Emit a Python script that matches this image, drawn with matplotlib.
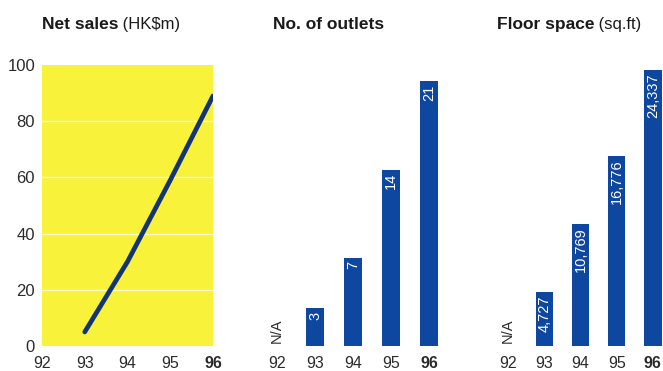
import matplotlib.pyplot as plt

plt.rcParams['font.family'] = ['Liberation Sans', 'DejaVu Sans']

years = [92, 93, 94, 95, 96]
year_labels = ['92', '93', '94', '95', '96']

# net sales line (HK$m), no 92 value
sales_years = [93, 94, 95, 96]
net_sales = [5, 30, 59, 89]

# outlets and floor space, 92 is N/A
bar_years = [93, 94, 95, 96]
outlets = [3, 7, 14, 21]
floor_space = [4727, 10769, 16776, 24337]

yellow = '#f8f23a'
blue = '#0e47a0'
navy = '#133575'
grey = '#2b2b2b'

fig = plt.figure(figsize=(6.63, 3.71), dpi=100)
W, H = 663.0, 371.0


def axes_px(left, right, bottom=346, top=65):
    return fig.add_axes([left / W, (H - bottom) / H, (right - left) / W, (bottom - top) / H])


def style_xticks(ax):
    ax.set_xticks(years)
    ax.set_xticklabels(year_labels)
    ax.tick_params(axis='x', length=0, pad=7, labelsize=11.5, labelcolor=grey)
    ax.get_xticklabels()[-1].set_fontweight('bold')
    for s in ax.spines.values():
        s.set_visible(False)


# net sales
ax1 = axes_px(42, 213)
ax1.set_facecolor(yellow)
ax1.plot(sales_years, net_sales, color=navy, lw=3.4, solid_capstyle='round', zorder=3)
ax1.set_xlim(92, 96)
ax1.set_ylim(0, 100)
ax1.set_yticks([0, 20, 40, 60, 80, 100])
ax1.tick_params(axis='y', length=0, pad=5, labelsize=12, labelcolor=grey)
for v in [20, 40, 60, 80]:
    ax1.axhline(v, color='#fdfbd0', lw=1.0, zorder=1)
style_xticks(ax1)


def bar_panel(left, right, values, labels, ymax):
    ax = axes_px(left, right)
    ax.bar(bar_years, values, width=0.48, color=blue)
    ax.set_xlim(91.5, 96.5)
    ax.set_ylim(0, ymax)
    ax.set_yticks([])
    style_xticks(ax)
    for x, v, lab in zip(bar_years, values, labels):
        ax.text(x, v - ymax * 0.012, lab, rotation=90, ha='center', va='top',
                color='white', fontsize=10.5)
    ax.text(92, ymax * 0.01, 'N/A', rotation=90, ha='center', va='bottom',
            color=grey, fontsize=10.5)
    return ax


ax2 = bar_panel(258, 448, outlets, [str(v) for v in outlets], 22.3)
ax3 = bar_panel(490, 671, floor_space, ['{:,}'.format(v) for v in floor_space], 24780)


def title(x, bold, normal):
    t = fig.text(x / W, 1 - 29 / H, bold, fontsize=12.5, fontweight='bold',
                 color='#1a1a1a', ha='left', va='baseline')
    if normal:
        ax1.annotate(normal, xy=(1, 0), xycoords=t, xytext=(0, 0),
                     textcoords='offset points', fontsize=12, color='#1a1a1a',
                     ha='left', va='bottom', annotation_clip=False)


title(42, 'Net sales', r' (HK\$m)')
title(273, 'No. of outlets', None)
title(497, 'Floor space', ' (sq.ft)')

fig.savefig('out.png', dpi=100)
